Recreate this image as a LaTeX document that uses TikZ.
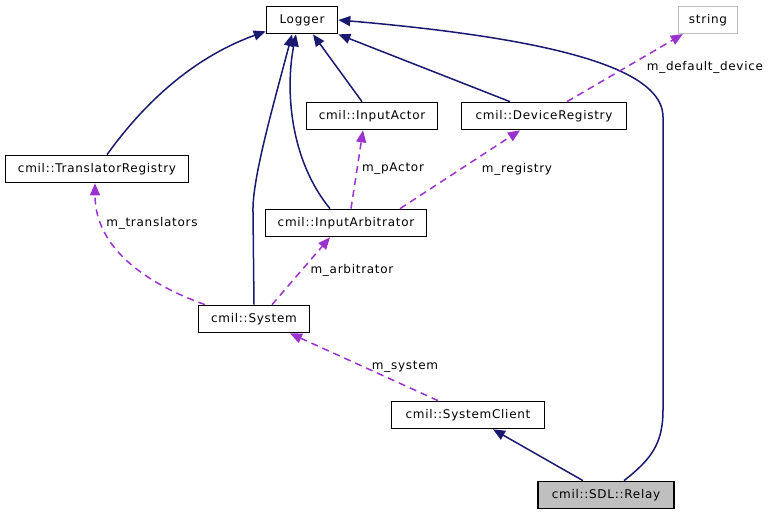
\documentclass[tikz,border=0pt]{standalone}
\usepackage{fontspec}
\setmainfont{DejaVu Sans}[LetterSpace=6]
\usetikzlibrary{arrows.meta}
\definecolor{edgeblue}{HTML}{191970}
\definecolor{edgepurple}{HTML}{9A32CD}
\definecolor{boxgray}{HTML}{BFBFBF}
\begin{document}
\begin{tikzpicture}[x=1pt,y=-1pt,
  cls/.style={draw=black, line width=1.7pt, inner sep=0pt, minimum height=27pt, font=\fontsize{12}{14}\selectfont},
  inh/.style={draw=edgeblue, line width=1.5pt, -{Triangle[length=12pt,width=10pt]}},
  use/.style={draw=edgepurple, line width=1.5pt, dash pattern=on 7pt off 5pt, -{Triangle[length=12pt,width=10pt]}},
  lbl/.style={inner sep=0pt, font=\fontsize{12}{14}\selectfont}]
\useasboundingbox (0,0) rectangle (774,514);
% nodes
\node[cls, minimum width=71pt] (logger) at (302,20) {Logger};
\node[cls, draw=boxgray, line width=1.3pt, minimum width=59pt] (string) at (708,20) {string};
\node[cls, minimum width=131pt] (ioa) at (372,116) {cmil::InputActor};
\node[cls, minimum width=165pt] (dr) at (544,116) {cmil::DeviceRegistry};
\node[cls, minimum width=183pt] (tr) at (97,169) {cmil::TranslatorRegistry};
\node[cls, minimum width=161pt] (ia) at (346,223) {cmil::InputArbitrator};
\node[cls, minimum width=111pt] (sys) at (254,319) {cmil::System};
\node[cls, minimum width=153pt] (sc) at (468,415) {cmil::SystemClient};
\node[cls, fill=boxgray, minimum width=136pt] (relay) at (606,495) {cmil::SDL::Relay};
% inheritance edges
\draw[inh] ([xshift=10pt]tr.north) .. controls (150,95) and (200,55) .. ([yshift=3pt]logger.south west);
\draw[inh] (sys.north) -- (253,212) .. controls (252,180) and (272,110) .. ([xshift=-10pt]logger.south);
\draw[inh] ([xshift=-16pt]ia.north) .. controls (290,160) and (285,90) .. ([xshift=-6pt]logger.south);
\draw[inh] ([xshift=-10pt]ioa.north) -- ([xshift=11pt]logger.south);
\draw[inh] ([xshift=-34pt]dr.north) -- (logger.south east);
\draw[inh] ([xshift=18pt]relay.north) .. controls (650,460) and (663,445) .. (663,410) -- (663,117) .. controls (663,72) and (570,40) .. (logger.east);
\draw[inh] ([xshift=-23pt]relay.north) -- ([xshift=25pt]sc.south);
% usage edges
\draw[use] ([xshift=23pt]dr.north) -- ([xshift=5pt]string.south west);
\draw[use] ([xshift=5pt]ia.north) -- ([xshift=-9pt]ioa.south);
\draw[use] ([xshift=54pt]ia.north) -- ([xshift=-24pt]dr.south);
\draw[use] ([xshift=-49pt]sys.north) .. controls (150,285) and (95,250) .. ([xshift=-2pt]tr.south);
\draw[use] ([xshift=18pt]sys.north) -- ([xshift=-16pt]ia.south);
\draw[use] ([xshift=-30pt]sc.north) -- ([xshift=36pt]sys.south);
% labels
\node[lbl] (l1) at (705,67) {m\_default\_device};
\node[lbl] (l2) at (393,169) {m\_pActor};
\node[lbl] (l3) at (517,169) {m\_registry};
\node[lbl] (l4) at (152,223) {m\_translators};
\node[lbl] (l5) at (352,270) {m\_arbitrator};
\node[lbl] (l6) at (405,367) {m\_system};
\end{tikzpicture}
\end{document}
